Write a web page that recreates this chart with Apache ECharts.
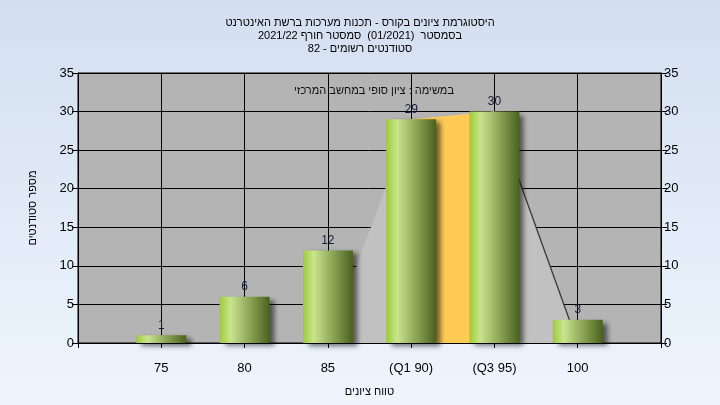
<!DOCTYPE html>
<html>
<head>
<meta charset="utf-8">
<script src="https://cdn.jsdelivr.net/npm/echarts@6/dist/echarts.min.js"></script>
<style>
html,body{margin:0;padding:0;}
#c{width:720px;height:405px;}
</style>
</head>
<body>
<div id="c" dir="rtl"></div>
<script>
// ---- data ----
const titleLines = [
  'היסטוגרמת ציונים בקורס - תכנות מערכות ברשת האינטרנט',
  'בסמסטר  (01/2021)  סמסטר חורף 2021/22',
  'סטודנטים רשומים - 82'
];
const subtitle = 'במשימה : ציון סופי במחשב המרכזי';
const xAxisName = 'טווח ציונים';
const yAxisName = 'מספר סטודנטים';
const categories = [75, 80, 85, 90, 95, 100];
const tickLabels = ['75', '80', '85', '(Q1 90)', '(Q3 95)', '100'];
const counts = [1, 6, 12, 29, 30, 3];
// distribution outline (grade, count)
const outlineX = [85, 90, 95, 100];
const outlineY = [0, 29, 30, 0];
// inter-quartile band
const iqrX = [90, 95];
const iqrY = [29, 30];
// right edge line
const edgeX = [95, 100];
const edgeY = [30, 0];

const FONT = "'Liberation Sans',Arial,sans-serif";
const labelMap = {};
categories.forEach((c, i) => labelMap[c] = tickLabels[i]);
const pairs = (xs, ys) => xs.map((x, i) => [x, ys[i]]);

const chart = echarts.init(document.getElementById('c'));
const barGrad = new echarts.graphic.LinearGradient(0, 0, 1, 0, [
  {offset: 0, color: '#9ccb38'},
  {offset: 0.22, color: '#c9e48f'},
  {offset: 0.6, color: '#8ca556'},
  {offset: 1, color: '#4a611f'}
]);
const axisText = {color: '#000', fontFamily: FONT, fontSize: 13};

chart.setOption({
  animation: false,
  backgroundColor: new echarts.graphic.LinearGradient(0, 0, 0, 1, [
    {offset: 0, color: '#d3dff0'},
    {offset: 1, color: '#eef5fd'}
  ]),
  title: [{
    text: titleLines.join('\n'),
    left: 'center', top: 11,
    textStyle: {fontFamily: FONT, fontSize: 11, fontWeight: 'normal', color: '#000', lineHeight: 13}
  }, {
    text: subtitle,
    left: 369, top: 80, textAlign: 'center',
    textStyle: {fontFamily: FONT, fontSize: 11, fontWeight: 'normal', color: '#111'}
  }],
  grid: {
    left: 78, right: 59, top: 73, bottom: 62,
    show: true, backgroundColor: '#b4b4b4', borderColor: '#000', borderWidth: 1
  },
  xAxis: {
    type: 'value', min: 70, max: 105, interval: 5,
    name: xAxisName, nameLocation: 'middle', nameGap: 43,
    nameTextStyle: {fontFamily: FONT, fontSize: 11, color: '#000'},
    axisLine: {lineStyle: {color: '#000'}},
    axisTick: {show: true, length: 5, lineStyle: {color: '#000'}},
    axisLabel: Object.assign({margin: 19, formatter: v => labelMap[v] || ''}, axisText),
    splitLine: {show: true, lineStyle: {color: '#000', width: 1}}
  },
  yAxis: [{
    type: 'value', min: 0, max: 35, interval: 5, position: 'left',
    name: yAxisName, nameLocation: 'middle', nameGap: 40,
    nameTextStyle: {fontFamily: FONT, fontSize: 11, color: '#000'},
    axisLine: {show: true, lineStyle: {color: '#000'}},
    axisTick: {show: true, length: 6, lineStyle: {color: '#000'}},
    axisLabel: Object.assign({margin: 4}, axisText),
    splitLine: {show: true, lineStyle: {color: '#000', width: 1}}
  }, {
    type: 'value', min: 0, max: 35, interval: 5, position: 'right',
    axisLine: {show: true, lineStyle: {color: '#000'}},
    axisTick: {show: true, length: 6, lineStyle: {color: '#000'}},
    axisLabel: Object.assign({margin: 3}, axisText),
    splitLine: {show: false}
  }],
  series: [{
    type: 'line', data: pairs(outlineX, outlineY), symbol: 'none', z: 1,
    lineStyle: {width: 0}, areaStyle: {color: '#c1c1c1', opacity: 1}, silent: true
  }, {
    type: 'line', data: pairs(iqrX, iqrY), symbol: 'none', z: 2,
    lineStyle: {width: 0}, areaStyle: {color: '#ffcb55', opacity: 1}, silent: true
  }, {
    type: 'line', data: pairs(edgeX, edgeY), symbol: 'none', z: 2,
    lineStyle: {width: 1.3, color: '#3a3a3a'}, silent: true
  }, {
    type: 'bar', data: pairs(categories, counts), barWidth: 50, z: 5,
    itemStyle: {
      color: barGrad,
      shadowColor: 'rgba(0,0,0,0.55)', shadowBlur: 5, shadowOffsetX: 5, shadowOffsetY: 3
    },
    label: {
      show: true, position: 'top', distance: 4,
      fontFamily: FONT, fontSize: 12, color: '#1a1a3a',
      formatter: p => p.value[1]
    }
  }]
});
</script>
</body>
</html>
